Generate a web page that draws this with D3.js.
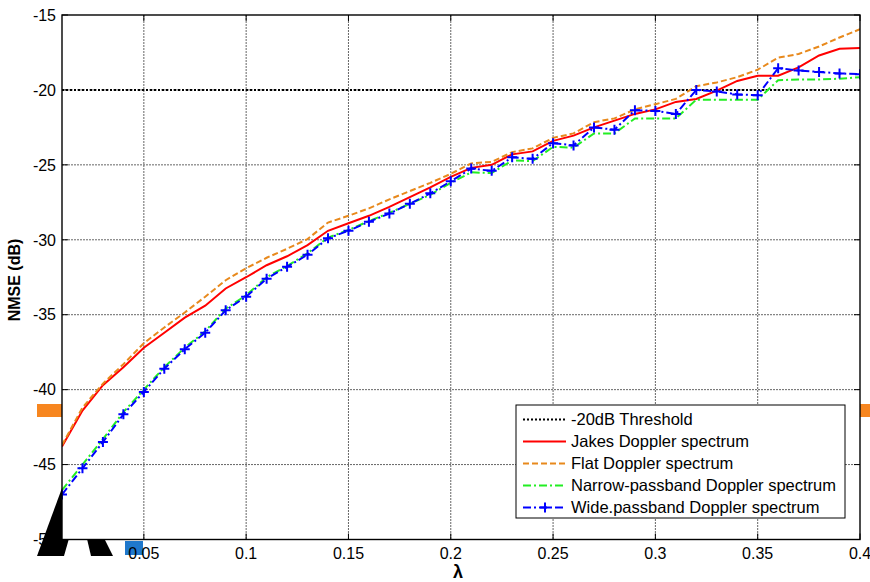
<!DOCTYPE html>
<html><head><meta charset="utf-8">
<script src="https://cdn.jsdelivr.net/npm/d3@7"></script>
<style>body{margin:0;background:#fff}</style>
</head><body>
<svg id="chart" width="870" height="582"></svg>
<script>
const lambda = [0.01,0.02,0.03,0.04,0.05,0.06,0.07,0.08,0.09,0.10,0.11,0.12,0.13,0.14,0.15,0.16,0.17,0.18,0.19,0.20,0.21,0.22,0.23,0.24,0.25,0.26,0.27,0.28,0.29,0.30,0.31,0.32,0.33,0.34,0.35,0.36,0.37,0.38,0.39,0.40];
const jakes = [-43.8,-41.4,-39.7,-38.5,-37.2,-36.2,-35.2,-34.4,-33.25,-32.5,-31.7,-31.1,-30.35,-29.4,-28.9,-28.4,-27.8,-27.15,-26.5,-25.8,-25.2,-25.0,-24.3,-24.1,-23.4,-23.05,-22.5,-22.05,-21.6,-21.3,-20.8,-20.6,-20.05,-19.4,-19.05,-19.05,-18.5,-17.7,-17.25,-17.2];
const flat = [-43.7,-41.2,-39.6,-38.3,-36.9,-35.85,-34.85,-33.8,-32.7,-31.9,-31.2,-30.6,-29.95,-28.85,-28.4,-27.9,-27.3,-26.75,-26.2,-25.6,-24.9,-24.8,-24.15,-23.9,-23.2,-22.9,-22.15,-21.9,-21.3,-20.95,-20.6,-19.75,-19.5,-19.15,-18.65,-17.85,-17.6,-17.1,-16.5,-15.95];
const narrow = [-46.7,-45.0,-43.3,-41.5,-40.0,-38.5,-37.2,-36.1,-34.6,-33.7,-32.5,-31.75,-30.9,-29.85,-29.35,-28.75,-28.2,-27.6,-27.0,-26.2,-25.5,-25.55,-24.7,-24.75,-23.8,-23.85,-22.9,-22.9,-21.9,-21.9,-21.9,-20.65,-20.65,-20.65,-20.65,-19.35,-19.3,-19.3,-19.25,-19.15];
const wide = [-47.0,-45.25,-43.5,-41.65,-40.15,-38.6,-37.3,-36.2,-34.7,-33.8,-32.6,-31.8,-31.0,-29.9,-29.4,-28.8,-28.25,-27.6,-26.9,-26.1,-25.25,-25.4,-24.5,-24.6,-23.55,-23.7,-22.5,-22.65,-21.35,-21.4,-21.6,-20.0,-20.1,-20.3,-20.35,-18.55,-18.7,-18.8,-18.9,-18.95];
const threshold = -20;
const xTicks = [0.05,0.1,0.15,0.2,0.25,0.3,0.35,0.4];
const xTickLabels = ["0.05","0.1","0.15","0.2","0.25","0.3","0.35","0.4"];
const yTicks = [-50,-45,-40,-35,-30,-25,-20,-15];
const legendLabels = ["-20dB Threshold","Jakes Doppler spectrum","Flat Doppler spectrum","Narrow-passband Doppler spectrum","Wide.passband Doppler spectrum"];

const L = 62, R = 860, T = 15, B = 539.5;
const svg = d3.select("#chart");
const x = d3.scaleLinear().domain([0.01, 0.4]).range([L, R]);
const y = d3.scaleLinear().domain([-50, -15]).range([B, T]);
const font = "'Liberation Sans', Arial, sans-serif";

// stray marks in the picture (drawn under the labels / plot)
svg.append("rect").attr("x", 125).attr("y", 541).attr("width", 18).attr("height", 14).attr("fill", "#1f78cc");
svg.append("rect").attr("x", 37).attr("y", 404).attr("width", 25).attr("height", 13).attr("fill", "#f7861f");
svg.append("rect").attr("x", 860).attr("y", 404).attr("width", 10).attr("height", 13).attr("fill", "#f7861f");

// y tick labels
svg.append("g").selectAll("text").data(yTicks).join("text")
  .attr("x", L - 6).attr("y", d => y(d)).attr("dy", "0.36em")
  .attr("text-anchor", "end").attr("font-family", font).attr("font-size", 16)
  .text(d => d);
// x tick labels
svg.append("g").selectAll("text").data(xTicks).join("text")
  .attr("x", d => x(d)).attr("y", B + 19)
  .attr("text-anchor", "middle").attr("font-family", font).attr("font-size", 16)
  .text((d, i) => xTickLabels[i]);

// black stroke shape over the -50 label
svg.append("path").attr("d", "M37,556L64,556L80,500L62,488Z").attr("fill", "#000");
svg.append("path").attr("d", "M91,556L113,556L98,526L84,526Z").attr("fill", "#000");

// plot background
svg.append("rect").attr("x", L).attr("y", T).attr("width", R - L).attr("height", B - T).attr("fill", "#fff");

// grid
const grid = svg.append("g").attr("stroke", "#666").attr("stroke-width", 1).attr("stroke-dasharray", "2,1");
grid.selectAll("line.v").data(xTicks.filter(d => d < 0.4)).join("line")
  .attr("x1", d => x(d)).attr("x2", d => x(d)).attr("y1", T).attr("y2", B);
grid.selectAll("line.h").data(yTicks.filter(d => d > -50 && d < -15)).join("line")
  .attr("x1", L).attr("x2", R).attr("y1", d => y(d)).attr("y2", d => y(d));

// ticks (inside, all four sides)
const tk = svg.append("g").attr("stroke", "#000").attr("stroke-width", 1);
yTicks.forEach(d => {
  tk.append("line").attr("x1", L).attr("x2", L + 6).attr("y1", y(d)).attr("y2", y(d));
  tk.append("line").attr("x1", R - 6).attr("x2", R).attr("y1", y(d)).attr("y2", y(d));
});
xTicks.forEach(d => {
  tk.append("line").attr("x1", x(d)).attr("x2", x(d)).attr("y1", B).attr("y2", B - 6);
  tk.append("line").attr("x1", x(d)).attr("x2", x(d)).attr("y1", T).attr("y2", T + 6);
});

svg.append("clipPath").attr("id", "clip").append("rect")
  .attr("x", L).attr("y", T - 2).attr("width", R - L).attr("height", B - T + 4);
const plot = svg.append("g").attr("clip-path", "url(#clip)");

// threshold
plot.append("line").attr("x1", L).attr("x2", R).attr("y1", y(threshold)).attr("y2", y(threshold))
  .attr("stroke", "#000").attr("stroke-width", 2).attr("stroke-dasharray", "2,2");

const line = vals => d3.line().x((d, i) => x(lambda[i])).y(d => y(d))(vals);
const series = [
  {v: jakes, c: "#ff0000", dash: null},
  {v: flat, c: "#e8891c", dash: "6,3"},
  {v: narrow, c: "#22ee22", dash: "8,3,2,3"},
  {v: wide, c: "#0000ff", dash: "8,3,2,3"}
];
series.forEach(s => {
  plot.append("path").attr("d", line(s.v)).attr("fill", "none").attr("stroke", s.c)
    .attr("stroke-width", 2).attr("stroke-dasharray", s.dash);
});
// markers for wide series
plot.append("g").selectAll("path").data(wide).join("path")
  .attr("d", (d, i) => {
    const cx = x(lambda[i]), cy = y(d);
    return `M${cx-5},${cy}H${cx+5}M${cx},${cy-5}V${cy+5}`;
  })
  .attr("stroke", "#0000ff").attr("stroke-width", 2).attr("fill", "none");

// axes box
svg.append("rect").attr("x", L).attr("y", T).attr("width", R - L).attr("height", B - T)
  .attr("fill", "none").attr("stroke", "#000").attr("stroke-width", 1.4);

// axis labels
svg.append("text").attr("x", 458).attr("y", 578).attr("text-anchor", "middle")
  .attr("font-family", font).attr("font-weight", "bold").attr("font-size", 18).text("λ");
svg.append("text").attr("transform", `translate(20,280) rotate(-90)`)
  .attr("text-anchor", "middle").attr("font-family", font).attr("font-weight", "bold")
  .attr("font-size", 16).text("NMSE (dB)");

// legend
const lg = svg.append("g");
lg.append("rect").attr("x", 516).attr("y", 405).attr("width", 329).attr("height", 113)
  .attr("fill", "#fff").attr("stroke", "#000").attr("stroke-width", 1);
const legStyles = [
  {c: "#000", dash: "2,2", w: 2},
  {c: "#ff0000", dash: null, w: 2},
  {c: "#e8891c", dash: "6,3", w: 2},
  {c: "#22ee22", dash: "8,3,2,3", w: 2},
  {c: "#0000ff", dash: "8,3,2,3", w: 2}
];
legendLabels.forEach((t, i) => {
  const yy = 419.5 + i * 22;
  lg.append("line").attr("x1", 523).attr("x2", 566).attr("y1", yy).attr("y2", yy)
    .attr("stroke", legStyles[i].c).attr("stroke-width", legStyles[i].w).attr("stroke-dasharray", legStyles[i].dash);
  if (i === 4) {
    lg.append("path").attr("d", `M540,${yy}H550M545,${yy-5}V${yy+5}`).attr("stroke", "#0000ff").attr("stroke-width", 2);
  }
  lg.append("text").attr("x", 571).attr("y", yy).attr("dy", "0.36em")
    .attr("font-family", font).attr("font-size", 16.5).text(t);
});
</script>
</body></html>
